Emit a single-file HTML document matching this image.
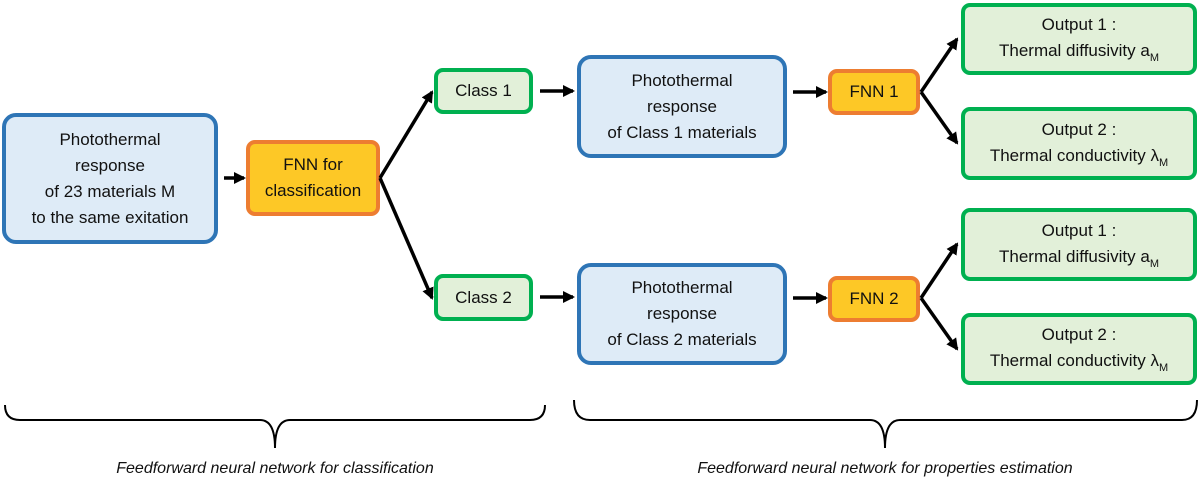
<!DOCTYPE html>
<html><head><style>
body{margin:0;width:1200px;height:485px;background:#fff;position:relative;overflow:hidden;font-family:"Liberation Sans",sans-serif;color:#111}
.b{position:absolute;box-sizing:border-box;display:flex;align-items:center;justify-content:center;text-align:center;font-size:17px;line-height:26px}
.blue{background:#deebf7;border:4px solid #2e75b6;border-radius:14px}
.or{background:#fdc826;border:4px solid #ed7d31;border-radius:9px}
.gr{background:#e2f0d9;border:4px solid #00b050;border-radius:9px}
.lab{position:absolute;font-style:italic;font-size:16px;width:600px;text-align:center}
.s{font-size:11px;position:relative;top:5px}
</style></head><body>
<div class="b blue" style="left:2px;top:113px;width:216px;height:131px"><span>Photothermal<br>response<br>of 23 materials M<br>to the same exitation</span></div>
<div class="b or" style="left:246px;top:140px;width:134px;height:76px"><span>FNN for<br>classification</span></div>
<div class="b gr" style="left:434px;top:68px;width:99px;height:46px"><span>Class 1</span></div>
<div class="b gr" style="left:434px;top:274px;width:99px;height:47px"><span>Class 2</span></div>
<div class="b blue" style="left:577px;top:55px;width:210px;height:103px"><span>Photothermal<br>response<br>of Class 1 materials</span></div>
<div class="b blue" style="left:577px;top:263px;width:210px;height:102px"><span>Photothermal<br>response<br>of Class 2 materials</span></div>
<div class="b or" style="left:828px;top:69px;width:92px;height:46px"><span>FNN 1</span></div>
<div class="b or" style="left:828px;top:276px;width:92px;height:46px"><span>FNN 2</span></div>
<div class="b gr" style="left:961px;top:3px;width:236px;height:72px"><span>Output 1 :<br>Thermal diffusivity a<span class="s">M</span></span></div>
<div class="b gr" style="left:961px;top:107px;width:236px;height:73px"><span>Output 2 :<br>Thermal conductivity λ<span class="s">M</span></span></div>
<div class="b gr" style="left:961px;top:208px;width:236px;height:73px"><span>Output 1 :<br>Thermal diffusivity a<span class="s">M</span></span></div>
<div class="b gr" style="left:961px;top:313px;width:236px;height:72px"><span>Output 2 :<br>Thermal conductivity λ<span class="s">M</span></span></div>
<svg width="1200" height="485" style="position:absolute;left:0;top:0">
<defs><marker id="a" markerWidth="12" markerHeight="12" refX="10" refY="6" orient="auto" markerUnits="userSpaceOnUse"><path d="M0,0L12,6L0,12z" fill="#000"/></marker></defs>
<g stroke="#000" stroke-width="3.5" fill="none">
<line x1="224" y1="178" x2="244" y2="178" marker-end="url(#a)"/>
<line x1="380" y1="178" x2="432" y2="92" marker-end="url(#a)"/>
<line x1="380" y1="178" x2="432" y2="298" marker-end="url(#a)"/>
<line x1="540" y1="91" x2="573" y2="91" marker-end="url(#a)"/>
<line x1="540" y1="297" x2="573" y2="297" marker-end="url(#a)"/>
<line x1="793" y1="92" x2="826" y2="92" marker-end="url(#a)"/>
<line x1="793" y1="298" x2="826" y2="298" marker-end="url(#a)"/>
<line x1="921" y1="92" x2="957" y2="39" marker-end="url(#a)"/>
<line x1="921" y1="92" x2="957" y2="143" marker-end="url(#a)"/>
<line x1="921" y1="298" x2="957" y2="244" marker-end="url(#a)"/>
<line x1="921" y1="298" x2="957" y2="349" marker-end="url(#a)"/>
</g>
<g stroke="#000" stroke-width="2" fill="none">
<path d="M5,405 Q5,420 20,420 L260,420 Q275,420 275,448 Q275,420 290,420 L530,420 Q545,420 545,405"/>
<path d="M574,400 Q574,420 590,420 L870,420 Q885,420 885,448 Q885,420 900,420 L1182,420 Q1197,420 1197,400"/>
</g>
</svg>
<div class="lab" style="left:-25px;top:460px">Feedforward neural network for classification</div>
<div class="lab" style="left:585px;top:460px">Feedforward neural network for properties estimation</div>
</body></html>
